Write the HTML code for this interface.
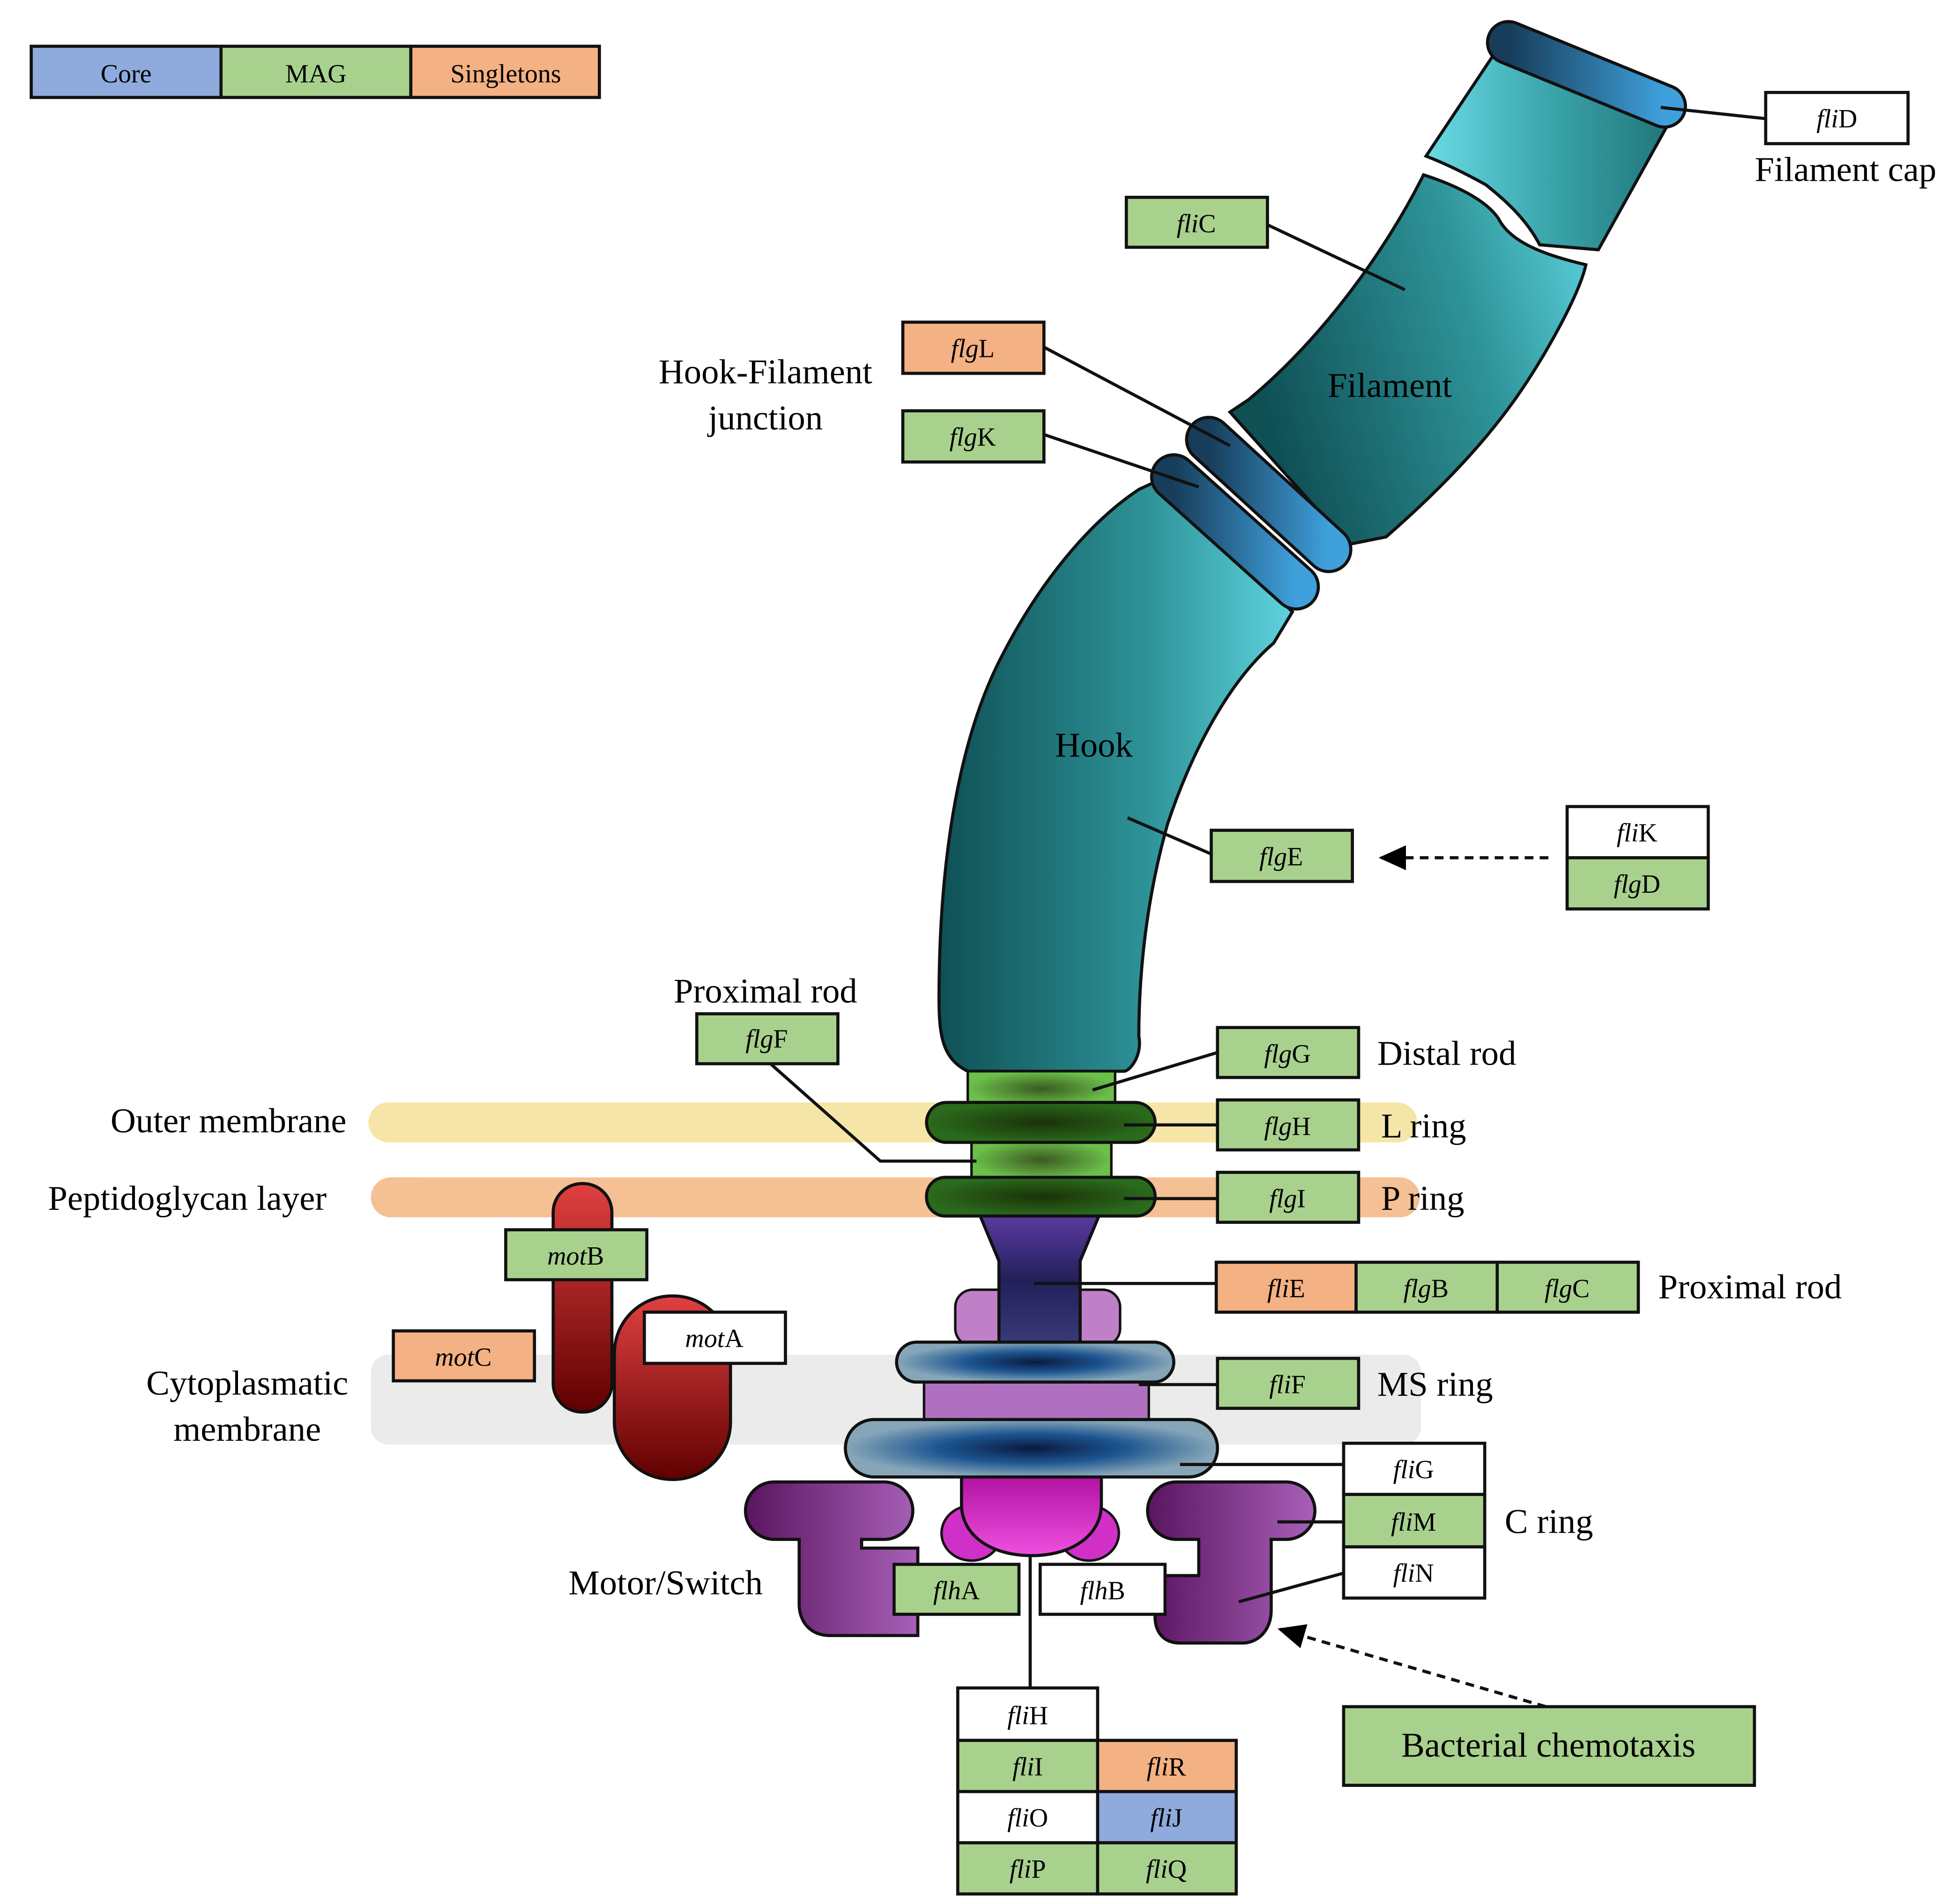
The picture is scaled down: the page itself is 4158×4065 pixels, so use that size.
<!DOCTYPE html>
<html><head><meta charset="utf-8"><style>html,body{margin:0;padding:0;background:#fff}svg{display:block}</style></head>
<body>
<svg width="4158" height="4065" viewBox="0 0 1560 1525" xmlns="http://www.w3.org/2000/svg" font-family="Liberation Serif, serif">
<defs>
<linearGradient id="teal" x1="0" y1="0" x2="1" y2="0"><stop offset="0" stop-color="#0f5055"/><stop offset="0.6" stop-color="#2e9499"/><stop offset="1" stop-color="#5fd3df"/></linearGradient>
<linearGradient id="tealF" x1="0" y1="0.3" x2="1" y2="0"><stop offset="0" stop-color="#0f5055"/><stop offset="0.6" stop-color="#2e9499"/><stop offset="1" stop-color="#5fd3df"/></linearGradient>
<linearGradient id="tealR" x1="0" y1="0" x2="1" y2="0"><stop offset="0" stop-color="#6adbe6"/><stop offset="0.5" stop-color="#3aa5ab"/><stop offset="1" stop-color="#1f7478"/></linearGradient>
<linearGradient id="blueR" x1="0" y1="0" x2="1" y2="0"><stop offset="0" stop-color="#173d5a"/><stop offset="1" stop-color="#3fa0dc"/></linearGradient>
<radialGradient id="msg" cx="0.5" cy="0.5" r="0.5"><stop offset="0" stop-color="#0a1a40"/><stop offset="0.5" stop-color="#1c5590"/><stop offset="1" stop-color="#86a6b8"/></radialGradient>
<radialGradient id="dg" cx="0.5" cy="0.5" r="0.5"><stop offset="0" stop-color="#1a3208"/><stop offset="1" stop-color="#2a6a1c"/></radialGradient>
<radialGradient id="lg" cx="0.5" cy="0.5" r="0.5"><stop offset="0" stop-color="#3a5a20"/><stop offset="1" stop-color="#6cc04a"/></radialGradient>
<linearGradient id="pur" x1="0" y1="0" x2="0" y2="1"><stop offset="0" stop-color="#5a3aa0"/><stop offset="0.5" stop-color="#22205a"/><stop offset="1" stop-color="#3a3a7a"/></linearGradient>
<linearGradient id="mag" x1="0" y1="0" x2="0" y2="1"><stop offset="0" stop-color="#b010a0"/><stop offset="1" stop-color="#f050e0"/></linearGradient>
<linearGradient id="cr" x1="0" y1="0" x2="1" y2="0"><stop offset="0" stop-color="#5a1560"/><stop offset="1" stop-color="#a860b8"/></linearGradient>
<linearGradient id="red" x1="0" y1="0" x2="0" y2="1"><stop offset="0" stop-color="#e04040"/><stop offset="1" stop-color="#600000"/></linearGradient>
<marker id="ar" markerWidth="22" markerHeight="22" refX="20" refY="11" orient="auto" markerUnits="userSpaceOnUse"><path d="M0,1 L22,11 L0,21 Z" fill="#000"/></marker>
</defs>
<g stroke="#111" stroke-width="2.5">
<rect x="25" y="37" width="152" height="41" fill="#8faadc"/><rect x="177" y="37" width="152" height="41" fill="#a9d18e"/><rect x="329" y="37" width="151" height="41" fill="#f4b183"/>
</g>
<g font-size="21" text-anchor="middle"><text x="101" y="66">Core</text><text x="253" y="66">MAG</text><text x="405" y="66">Singletons</text></g>
<rect x="295" y="883" width="840" height="32" rx="16" fill="#f5e6a8"/>
<rect x="297" y="943" width="840" height="32" rx="16" fill="#f5c093"/>
<rect x="297" y="1085" width="841" height="72" rx="14" fill="#ebebeb"/>
<path d="M1142,125 L1200,38 L1340,92 L1280,200 L1233,196 C1222,175 1205,160 1190,148 C1172,138 1155,130 1142,125 Z" fill="url(#tealR)" stroke="#111" stroke-width="2.5"/>
<path d="M985,330 L1000,320 C1060,270 1110,200 1140,140 C1165,148 1190,160 1200,175 C1210,195 1240,205 1270,212 C1265,235 1240,280 1220,310 C1190,355 1150,395 1110,430 L1080,436 Z" fill="url(#tealF)" stroke="#111" stroke-width="2.5"/>
<line x1="1208" y1="34" x2="1333" y2="85" stroke="#111" stroke-width="36" stroke-linecap="round"/>
<line x1="1208" y1="34" x2="1333" y2="85" stroke="url(#blueR)" stroke-width="31" stroke-linecap="round"/>
<path d="M775,858 C755,848 752,830 752,800 C752,700 765,600 800,530 C830,470 870,420 912,392 L925,386 L1035,490 L1020,515 C985,545 955,600 935,660 C918,720 912,780 912,830 C915,845 905,858 900,858 Z" fill="url(#teal)" stroke="#111" stroke-width="2.5"/>
<line x1="968" y1="352" x2="1064" y2="440" stroke="#111" stroke-width="38" stroke-linecap="round"/>
<line x1="968" y1="352" x2="1064" y2="440" stroke="url(#blueR)" stroke-width="33" stroke-linecap="round"/>
<line x1="940" y1="382" x2="1038" y2="470" stroke="#111" stroke-width="38" stroke-linecap="round"/>
<line x1="940" y1="382" x2="1038" y2="470" stroke="url(#blueR)" stroke-width="33" stroke-linecap="round"/>
<rect x="775" y="858" width="118" height="28" fill="url(#lg)" stroke="#111" stroke-width="2"/>
<rect x="778" y="913" width="112" height="32" fill="url(#lg)" stroke="#111" stroke-width="2"/>
<rect x="742" y="883" width="183" height="32" rx="16" fill="url(#dg)" stroke="#111" stroke-width="2.5"/>
<rect x="742" y="943" width="183" height="31" rx="15" fill="url(#dg)" stroke="#111" stroke-width="2.5"/>
<rect x="765" y="1033" width="132" height="45" rx="14" fill="#c080c8" stroke="#111" stroke-width="2"/>
<path d="M785,974 L880,974 L865,1010 L865,1077 L800,1077 L800,1010 Z" fill="url(#pur)" stroke="#111" stroke-width="2.5"/>
<rect x="740" y="1105" width="180" height="34" fill="#b070c0" stroke="#111" stroke-width="2"/>
<rect x="718" y="1075" width="222" height="32" rx="16" fill="url(#msg)" stroke="#111" stroke-width="2.5"/>
<ellipse cx="778" cy="1228" rx="24" ry="22" fill="#d030c8" stroke="#111" stroke-width="2"/>
<ellipse cx="872" cy="1228" rx="24" ry="22" fill="#d030c8" stroke="#111" stroke-width="2"/>
<path d="M770,1180 L882,1180 L882,1205 C882,1230 858,1246 826,1246 C794,1246 770,1230 770,1205 Z" fill="url(#mag)" stroke="#111" stroke-width="2.5"/>
<rect x="677" y="1137" width="298" height="46" rx="23" fill="url(#msg)" stroke="#111" stroke-width="2.5"/>
<path d="M620,1187 L708,1187 A23,23 0 0 1 708,1233 L690,1233 L690,1240 L735,1240 L735,1310 L665,1310 C648,1310 640,1298 640,1285 L640,1233 L620,1233 A23,23 0 0 1 620,1187 Z" fill="url(#cr)" stroke="#111" stroke-width="2.5"/>
<path d="M942,1187 L1030,1187 A23,23 0 0 1 1030,1233 L1018,1233 L1018,1290 C1018,1305 1008,1316 995,1316 L945,1316 C930,1316 925,1305 925,1295 L925,1262 L960,1262 L960,1233 L942,1233 A23,23 0 0 1 942,1187 Z" fill="url(#cr)" stroke="#111" stroke-width="2.5"/>
<rect x="443" y="948" width="47" height="183" rx="23" fill="url(#red)" stroke="#111" stroke-width="2.5"/>
<rect x="492" y="1038" width="93" height="147" rx="46" fill="url(#red)" stroke="#111" stroke-width="2.5"/>
<g stroke="#111" stroke-width="2.5" fill="none">
<line x1="1330" y1="86" x2="1414" y2="95"/>
<line x1="1015" y1="180" x2="1125" y2="232"/>
<line x1="836" y1="278" x2="985" y2="357"/>
<line x1="836" y1="348" x2="960" y2="390"/>
<line x1="903" y1="655" x2="970" y2="684"/>
<polyline points="617,852 705,930 782,930"/>
<line x1="975" y1="843" x2="875" y2="873"/>
<line x1="900" y1="901" x2="975" y2="901"/>
<line x1="900" y1="960" x2="975" y2="960"/>
<line x1="828" y1="1028" x2="974" y2="1028"/>
<line x1="912" y1="1109" x2="975" y2="1109"/>
<line x1="945" y1="1173" x2="1076" y2="1173"/>
<line x1="1023" y1="1219" x2="1076" y2="1219"/>
<line x1="992" y1="1283" x2="1076" y2="1260"/>
<line x1="825" y1="1245" x2="825" y2="1352"/>
<line x1="1240" y1="687" x2="1106" y2="687" stroke-dasharray="7,5" marker-end="url(#ar)"/>
<line x1="1238" y1="1367" x2="1025" y2="1305" stroke-dasharray="7,5" marker-end="url(#ar)"/>
</g>
<g stroke="#111" stroke-width="2.5">
<rect x="1414" y="74" width="114" height="41" fill="#fff"/>
<rect x="902" y="158" width="113" height="40" fill="#a9d18e"/>
<rect x="723" y="258" width="113" height="41" fill="#f4b183"/>
<rect x="723" y="329" width="113" height="41" fill="#a9d18e"/>
<rect x="970" y="665" width="113" height="41" fill="#a9d18e"/>
<rect x="1255" y="646" width="113" height="41" fill="#fff"/>
<rect x="1255" y="687" width="113" height="41" fill="#a9d18e"/>
<rect x="558" y="812" width="113" height="40" fill="#a9d18e"/>
<rect x="975" y="823" width="113" height="40" fill="#a9d18e"/>
<rect x="975" y="881" width="113" height="40" fill="#a9d18e"/>
<rect x="975" y="939" width="113" height="40" fill="#a9d18e"/>
<rect x="974" y="1011" width="112" height="40" fill="#f4b183"/>
<rect x="1086" y="1011" width="113" height="40" fill="#a9d18e"/>
<rect x="1199" y="1011" width="113" height="40" fill="#a9d18e"/>
<rect x="975" y="1088" width="113" height="40" fill="#a9d18e"/>
<rect x="1076" y="1156" width="113" height="41" fill="#fff"/>
<rect x="1076" y="1197" width="113" height="42" fill="#a9d18e"/>
<rect x="1076" y="1239" width="113" height="41" fill="#fff"/>
<rect x="716" y="1253" width="100" height="40" fill="#a9d18e"/>
<rect x="833" y="1253" width="100" height="40" fill="#fff"/>
<rect x="767" y="1352" width="112" height="42" fill="#fff"/>
<rect x="767" y="1394" width="112" height="41" fill="#a9d18e"/>
<rect x="879" y="1394" width="111" height="41" fill="#f4b183"/>
<rect x="767" y="1435" width="112" height="41" fill="#fff"/>
<rect x="879" y="1435" width="111" height="41" fill="#8faadc"/>
<rect x="767" y="1476" width="112" height="41" fill="#a9d18e"/>
<rect x="879" y="1476" width="111" height="41" fill="#a9d18e"/>
<rect x="1076" y="1367" width="329" height="63" fill="#a9d18e"/>
<rect x="405" y="985" width="113" height="40" fill="#a9d18e"/>
<rect x="315" y="1066" width="113" height="40" fill="#f4b183"/>
<rect x="516" y="1051" width="113" height="41" fill="#fff"/>
</g>
<g font-size="21" text-anchor="middle">
<text x="1471" y="102"><tspan font-style="italic">fli</tspan>D</text>
<text x="958" y="186"><tspan font-style="italic">fli</tspan>C</text>
<text x="779" y="286"><tspan font-style="italic">flg</tspan>L</text>
<text x="779" y="357"><tspan font-style="italic">flg</tspan>K</text>
<text x="1026" y="693"><tspan font-style="italic">flg</tspan>E</text>
<text x="1311" y="674"><tspan font-style="italic">fli</tspan>K</text>
<text x="1311" y="715"><tspan font-style="italic">flg</tspan>D</text>
<text x="614" y="839"><tspan font-style="italic">flg</tspan>F</text>
<text x="1031" y="851"><tspan font-style="italic">flg</tspan>G</text>
<text x="1031" y="909"><tspan font-style="italic">flg</tspan>H</text>
<text x="1031" y="967"><tspan font-style="italic">flg</tspan>I</text>
<text x="1030" y="1039"><tspan font-style="italic">fli</tspan>E</text>
<text x="1142" y="1039"><tspan font-style="italic">flg</tspan>B</text>
<text x="1255" y="1039"><tspan font-style="italic">flg</tspan>C</text>
<text x="1031" y="1116"><tspan font-style="italic">fli</tspan>F</text>
<text x="1132" y="1184"><tspan font-style="italic">fli</tspan>G</text>
<text x="1132" y="1226"><tspan font-style="italic">fli</tspan>M</text>
<text x="1132" y="1267"><tspan font-style="italic">fli</tspan>N</text>
<text x="766" y="1281"><tspan font-style="italic">flh</tspan>A</text>
<text x="883" y="1281"><tspan font-style="italic">flh</tspan>B</text>
<text x="823" y="1381"><tspan font-style="italic">fli</tspan>H</text>
<text x="823" y="1422"><tspan font-style="italic">fli</tspan>I</text>
<text x="934" y="1422"><tspan font-style="italic">fli</tspan>R</text>
<text x="823" y="1463"><tspan font-style="italic">fli</tspan>O</text>
<text x="934" y="1463"><tspan font-style="italic">fli</tspan>J</text>
<text x="823" y="1504"><tspan font-style="italic">fli</tspan>P</text>
<text x="934" y="1504"><tspan font-style="italic">fli</tspan>Q</text>
<text x="461" y="1013"><tspan font-style="italic">mot</tspan>B</text>
<text x="371" y="1094"><tspan font-style="italic">mot</tspan>C</text>
<text x="572" y="1079"><tspan font-style="italic">mot</tspan>A</text>
</g>
<g font-size="28" text-anchor="middle">
<text x="1478" y="145">Filament cap</text>
<text x="613" y="307">Hook-Filament</text>
<text x="613" y="344">junction</text>
<text x="1113" y="318">Filament</text>
<text x="876" y="606">Hook</text>
<text x="613" y="803">Proximal rod</text>
<text x="1240" y="1407">Bacterial chemotaxis</text>
<text x="533" y="1277">Motor/Switch</text>
<text x="183" y="907">Outer membrane</text>
<text x="150" y="969">Peptidoglycan layer</text>
<text x="198" y="1117">Cytoplasmatic</text>
<text x="198" y="1154">membrane</text>
</g>
<g font-size="28">
<text x="1103" y="853">Distal rod</text>
<text x="1106" y="911">L ring</text>
<text x="1106" y="969">P ring</text>
<text x="1328" y="1040">Proximal rod</text>
<text x="1103" y="1118">MS ring</text>
<text x="1205" y="1228">C ring</text>
</g>
</svg>
</body></html>
